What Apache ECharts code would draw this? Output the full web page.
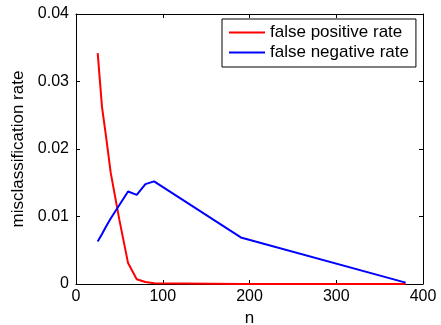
<!DOCTYPE html>
<html>
<head>
    <meta charset="UTF-8">
    <title>misclassification rate</title>
    <script src="https://cdn.jsdelivr.net/npm/echarts@6/dist/echarts.min.js"></script>
    <style>
        body { margin: 0; background: #fff; }
    </style>
</head>
<body>
<div id="chart" style="width: 441px;height:325px;"></div>

<script type="text/javascript">
    // data
    var nValues = [25, 30, 35, 40, 50, 60, 70, 80, 90, 190, 380];
    var fpRate  = [0.0342, 0.0262, 0.0215, 0.0165, 0.0095, 0.0031, 0.0007, 0.0003, 0.0001, 0, 0];
    var fnRate  = [0.0063, 0.0074, 0.0086, 0.0097, 0.0117, 0.0137, 0.0132, 0.0148, 0.0152, 0.0069, 0.0002];
    var xTicks = [0, 100, 200, 300, 400];
    var yTicks = [0, 0.01, 0.02, 0.03, 0.04];

    function pairs(ys) {
        return nValues.map(function (n, i) { return [n, ys[i]]; });
    }

    var font = 'Liberation Sans, Arial, Helvetica, sans-serif';
    var tick = { show: true, inside: true, length: 4, lineStyle: { color: '#000' } };
    var line = { show: true, onZero: false, lineStyle: { color: '#000', width: 1 } };

    var chart = echarts.init(document.getElementById('chart'));

    var option = {
        animation: false,
        grid: { left: 76, right: 18, top: 14, bottom: 41, outerBoundsMode: 'none', containLabel: false },
        legend: {
            orient: 'vertical',
            left: 222,
            top: 19,
            padding: [5, 7, 6, 7],
            itemGap: 3,
            itemWidth: 36,
            itemHeight: 2,
            icon: 'rect',
            borderColor: '#000',
            borderWidth: 1,
            backgroundColor: '#fff',
            textStyle: { fontFamily: font, fontSize: 17, lineHeight: 17, color: '#000' },
            data: ['false positive rate', 'false negative rate']
        },
        xAxis: [{
            type: 'value', min: xTicks[0], max: xTicks[xTicks.length - 1], interval: 100,
            name: 'n', nameLocation: 'middle', nameGap: 21,
            nameTextStyle: { fontFamily: font, fontSize: 17, color: '#000' },
            axisLine: line, axisTick: tick, splitLine: { show: false },
            axisLabel: { fontFamily: font, fontSize: 16, color: '#000', margin: 5 }
        }, {
            type: 'value', position: 'top', min: xTicks[0], max: xTicks[xTicks.length - 1], interval: 100,
            axisLine: line, axisTick: tick, splitLine: { show: false }, axisLabel: { show: false }
        }],
        yAxis: [{
            type: 'value', min: yTicks[0], max: yTicks[yTicks.length - 1], interval: 0.01,
            name: 'misclassification rate', nameLocation: 'middle', nameGap: 42,
            nameTextStyle: { fontFamily: font, fontSize: 17, color: '#000' },
            axisLine: line, axisTick: tick, splitLine: { show: false },
            axisLabel: {
                fontFamily: font, fontSize: 16, color: '#000', margin: 7,
                formatter: function (v) { return v === 0 ? '0' : v.toFixed(2); }
            }
        }, {
            type: 'value', position: 'right', min: yTicks[0], max: yTicks[yTicks.length - 1], interval: 0.01,
            axisLine: line, axisTick: tick, splitLine: { show: false }, axisLabel: { show: false }
        }],
        series: [
            {
                name: 'false positive rate',
                type: 'line',
                data: pairs(fpRate),
                symbol: 'none',
                color: '#ff0000',
                lineStyle: { color: '#ff0000', width: 2 }
            },
            {
                name: 'false negative rate',
                type: 'line',
                data: pairs(fnRate),
                symbol: 'none',
                color: '#0000ff',
                lineStyle: { color: '#0000ff', width: 2 }
            }
        ]
    };

    chart.setOption(option);
</script>
</body>
</html>
